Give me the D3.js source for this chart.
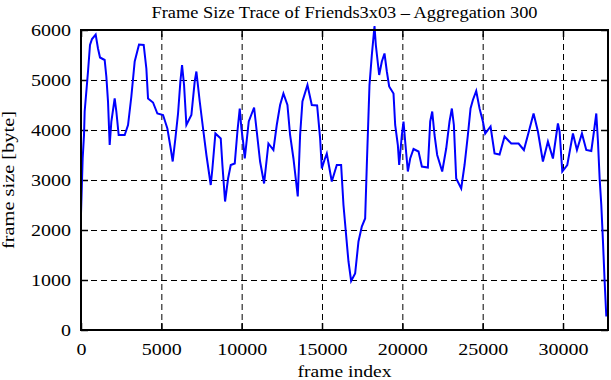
<!DOCTYPE html>
<html>
<head>
<meta charset="utf-8">
<script src="https://cdn.jsdelivr.net/npm/d3@7"></script>
<style>
  body { margin: 0; background: #fff; }
  text { font-family: "Liberation Serif", "DejaVu Serif", serif; }
</style>
</head>
<body>
<div id="chart"></div>
<script>
// frame index (x) and aggregated frame size in bytes (y)
const frameIdx = [0, 104, 187, 228, 374, 436, 560, 685, 913, 1058, 1183, 1473, 1577, 1681, 1785, 1889,
  2096, 2200, 2345, 2719, 2927, 3134, 3342, 3611, 3902, 4068, 4172, 4483, 4753, 5106, 5376, 5583,
  5708, 5874, 6040, 6185, 6289, 6414, 6559, 6870, 7078, 7182, 7390, 7597, 7805, 8075, 8179, 8365,
  8697, 8801, 8967, 9154, 9320, 9569, 9735, 9880, 9984, 10088, 10192, 10441, 10773, 10939, 11146,
  11395, 11520, 11665, 11976, 12184, 12391, 12599, 12848, 13014, 13222, 13492, 13637, 13782, 14094,
  14364, 14696, 14883, 14987, 15153, 15298, 15609, 15920, 16190, 16336, 16481, 16647, 16813, 17062,
  17270, 17478, 17685, 17789, 17955, 18101, 18267, 18350, 18558, 18724, 18890, 19035, 19180, 19450,
  19554, 19720, 19803, 19969, 20073, 20177, 20343, 20488, 20696, 21007, 21215, 21589, 21734, 21860,
  22003, 22169, 22481, 22730, 22937, 23082, 23207, 23352, 23664, 23871, 24079, 24245, 24390, 24598,
  24806, 25013, 25158, 25490, 25739, 26051, 26362, 26777, 27234, 27566, 27815, 28168, 28438, 28749,
  29061, 29372, 29683, 29787, 29954, 30265, 30618, 30867, 31178, 31448, 31760, 31926, 32071, 32175,
  32279, 32383, 32487, 32591, 32695];
const frameSize = [2330, 3430, 3900, 4370, 4930, 5170, 5700, 5820, 5910, 5630, 5450, 5400, 5070, 4570, 3700, 4170,
  4630, 4370, 3900, 3900, 4100, 4670, 5370, 5710, 5700, 5230, 4630, 4550, 4330, 4300, 4030, 3630,
  3370, 3830, 4330, 4970, 5300, 4900, 4100, 4300, 4970, 5170, 4570, 4030, 3500, 2900, 3230, 3930,
  3830, 3300, 2570, 3030, 3300, 3330, 3970, 4430, 4030, 3770, 3430, 4170, 4450, 3970, 3370,
  2930, 3300, 3730, 3600, 4100, 4500, 4730, 4500, 3900, 3430, 2670, 3900, 4570, 4900,
  4500, 4490, 3830, 3230, 3400, 3530, 2970, 3300, 3300, 2500, 1970, 1370, 980, 1130,
  1770, 2070, 2230, 3300, 4900, 5500, 6080, 5700, 5100, 5370, 5530, 5170, 4870, 4730,
  4100, 3700, 3300, 3900, 4170, 3770, 3170, 3430, 3620, 3570, 3270, 3250, 4170, 4370,
  3900, 3500, 3170, 3630, 4170, 4430, 4100, 3030, 2830, 3300, 3900, 4430, 4600, 4780,
  4430, 4170, 3930, 4070, 3530, 3510, 3870, 3730, 3730, 3600, 3900, 4330, 3970, 3370,
  3770, 3430, 4130, 3970, 3170, 3300, 3930, 3600, 3930, 3600, 3580, 3970, 4330, 3770,
  3030, 2500, 1770, 970, 270];
const xTicks = [0, 5000, 10000, 15000, 20000, 25000, 30000];
const yTicks = [0, 1000, 2000, 3000, 4000, 5000, 6000];
const xMax = 32800;

const margin = {top: 30, right: 3, bottom: 50, left: 81};
const width = 611 - margin.left - margin.right;
const height = 380 - margin.top - margin.bottom;

const svg = d3.select("#chart").append("svg")
    .attr("width", 611)
    .attr("height", 380);

const g = svg.append("g")
    .attr("transform", `translate(${margin.left},${margin.top})`);

const x = d3.scaleLinear().domain([0, xMax]).range([0, width]);
const y = d3.scaleLinear().domain([0, 6000]).range([height, 0]);

// dashed grid
g.append("g")
    .attr("class", "grid")
    .call(d3.axisLeft(y).tickValues(yTicks.slice(1, -1)).tickSize(-width).tickFormat(""));
g.append("g")
    .attr("class", "grid")
    .attr("transform", `translate(0,${height})`)
    .call(d3.axisBottom(x).tickValues(xTicks.slice(1)).tickSize(-height).tickFormat(""));
g.selectAll(".grid .domain").remove();
g.selectAll(".grid line")
    .attr("stroke", "#000")
    .attr("stroke-width", 1)
    .attr("stroke-dasharray", "6,4");

// inward ticks on all four sides
const tick = 7;
g.append("g").attr("class", "tk").call(d3.axisLeft(y).tickValues(yTicks).tickSize(-tick).tickFormat(""));
g.append("g").attr("class", "tk").attr("transform", `translate(${width},0)`)
    .call(d3.axisRight(y).tickValues(yTicks).tickSize(-tick).tickFormat(""));
g.append("g").attr("class", "tk").attr("transform", `translate(0,${height})`)
    .call(d3.axisBottom(x).tickValues(xTicks).tickSize(-tick).tickFormat(""));
g.append("g").attr("class", "tk")
    .call(d3.axisTop(x).tickValues(xTicks).tickSize(-tick).tickFormat(""));
g.selectAll(".tk .domain").remove();
g.selectAll(".tk line").attr("stroke", "#000").attr("stroke-width", 1.5);

// tick labels
const yAx = g.append("g")
    .call(d3.axisLeft(y).tickValues(yTicks).tickSize(0).tickPadding(10).tickFormat(d3.format("d")));
const xAx = g.append("g")
    .attr("transform", `translate(0,${height})`)
    .call(d3.axisBottom(x).tickValues(xTicks).tickSize(0).tickPadding(14).tickFormat(d3.format("d")));
[yAx, xAx].forEach(a => {
    a.select(".domain").remove();
    a.selectAll("text")
        .attr("font-family", "Liberation Serif")
        .attr("font-size", 16)
        .attr("fill", "#000")
        .attr("textLength", d => String(d).length * 10)
        .attr("lengthAdjust", "spacingAndGlyphs");
});

// the trace
const pts = frameIdx.map((f, i) => [f, frameSize[i]]);
g.append("path")
    .datum(pts)
    .attr("fill", "none")
    .attr("stroke", "#0000ff")
    .attr("stroke-width", 2)
    .attr("stroke-linejoin", "miter")
    .attr("d", d3.line().x(d => x(d[0])).y(d => y(d[1])));

// frame
g.append("rect")
    .attr("width", width)
    .attr("height", height)
    .attr("fill", "none")
    .attr("stroke", "#000")
    .attr("stroke-width", 2);

// titles
svg.append("text")
    .attr("x", margin.left + width / 2)
    .attr("y", 18)
    .attr("text-anchor", "middle")
    .attr("font-size", 16)
    .attr("textLength", 386)
    .attr("lengthAdjust", "spacingAndGlyphs")
    .text("Frame Size Trace of Friends3x03 \u2013 Aggregation 300");

svg.append("text")
    .attr("x", margin.left + width / 2)
    .attr("y", 377)
    .attr("text-anchor", "middle")
    .attr("font-size", 16)
    .attr("textLength", 94)
    .attr("lengthAdjust", "spacingAndGlyphs")
    .text("frame index");

svg.append("text")
    .attr("transform", `translate(14,${margin.top + height / 2}) rotate(-90)`)
    .attr("text-anchor", "middle")
    .attr("font-size", 16)
    .attr("textLength", 138)
    .attr("lengthAdjust", "spacingAndGlyphs")
    .text("frame size [byte]");
</script>
</body>
</html>
